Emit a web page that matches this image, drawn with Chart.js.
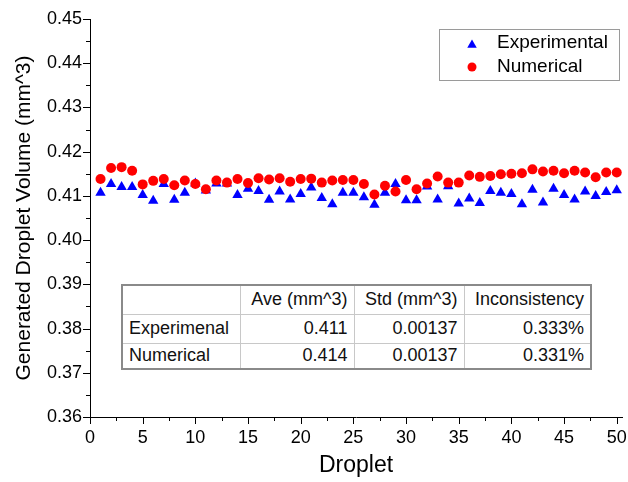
<!DOCTYPE html>
<html>
<head>
<meta charset="utf-8">
<script src="https://cdn.jsdelivr.net/npm/chart.js@4.4.1/dist/chart.umd.min.js"></script>
<style>
    html, body { margin: 0; padding: 0; background: #fff; }
    #wrap { position: relative; width: 628px; height: 482px; }
    #stats {
        position: absolute; left: 121px; top: 284px; width: 469px;
        border-collapse: collapse; table-layout: fixed; background: #fff;
        font-family: Arial, "Liberation Sans", sans-serif; font-size: 18px; color: #111;
        border: 2px solid #8a8a8a;
    }
    #stats td { border: 1px solid #c8c8c8; padding: 0 6px; text-align: right; white-space: nowrap; }
    #stats td:first-child { text-align: left; }
</style>
</head>
<body>
<div id="wrap">
    <canvas id="volumeChart" width="628" height="482"></canvas>
    <table id="stats"></table>
</div>
<script>
// ============================================
// Volumen de gota: experimental vs numérico
// ============================================

const droplets = [1, 2, 3, 4, 5, 6, 7, 8, 9, 10, 11, 12, 13, 14, 15, 16, 17, 18, 19, 20,
    21, 22, 23, 24, 25, 26, 27, 28, 29, 30, 31, 32, 33, 34, 35, 36, 37, 38, 39, 40,
    41, 42, 43, 44, 45, 46, 47, 48, 49, 50];

// mm^3
const experimental = [0.4107, 0.4127, 0.4120, 0.4120, 0.4102, 0.4089, 0.4127, 0.4091, 0.4107, 0.4128,
    0.4112, 0.4128, 0.4128, 0.4102, 0.4116, 0.4111, 0.4091, 0.4110, 0.4092, 0.4104,
    0.4119, 0.4095, 0.4081, 0.4107, 0.4107, 0.4097, 0.4080, 0.4107, 0.4127, 0.4090,
    0.4090, 0.4121, 0.4092, 0.4122, 0.4083, 0.4094, 0.4084, 0.4111, 0.4107, 0.4104,
    0.4081, 0.4114, 0.4085, 0.4116, 0.4102, 0.4092, 0.4110, 0.4100, 0.4109, 0.4113];

const numerical = [0.4138, 0.4163, 0.4165, 0.4157, 0.4126, 0.4134, 0.4138, 0.4124, 0.4135, 0.4127,
    0.4115, 0.4135, 0.4130, 0.4138, 0.4129, 0.4140, 0.4137, 0.4140, 0.4132, 0.4138,
    0.4139, 0.4130, 0.4135, 0.4136, 0.4136, 0.4127, 0.4103, 0.4123, 0.4110, 0.4136,
    0.4115, 0.4128, 0.4144, 0.4130, 0.4130, 0.4146, 0.4143, 0.4145, 0.4149, 0.4150,
    0.4151, 0.4160, 0.4155, 0.4157, 0.4151, 0.4157, 0.4153, 0.4142, 0.4153, 0.4153];

const xRange = [0, 50.5];
const yRange = [0.36, 0.45];

const seriesNames = ['Experimental', 'Numerical'];

const statsHeader = ['', 'Ave (mm^3)', 'Std (mm^3)', 'Inconsistency'];
const statsRows = [
    ['Experimenal', '0.411', '0.00137', '0.333%'],
    ['Numerical', '0.414', '0.00137', '0.331%']
];

const FONT = 'Arial, "Liberation Sans", sans-serif';
Chart.defaults.font.family = FONT;
Chart.defaults.color = '#000';

// -----------------------------
// Tabla de resumen
// -----------------------------
function buildStatsTable() {
    const table = document.getElementById('stats');
    const widths = [118, 114, 110, 127];
    const heights = [29, 29, 26];
    let html = '<colgroup>' + widths.map(w => `<col style="width:${w}px">`).join('') + '</colgroup>';
    [statsHeader, ...statsRows].forEach((row, r) => {
        html += `<tr style="height:${heights[r]}px">` + row.map(c => `<td>${c}</td>`).join('') + '</tr>';
    });
    table.innerHTML = html;
}

// Marcas de eje (mayores y menores) hacia afuera, y leyenda en recuadro
const axisDecor = {
    id: 'axisDecor',
    afterDraw(chart) {
        const { ctx, chartArea, scales: { x, y } } = chart;
        ctx.save();
        ctx.strokeStyle = '#000';
        ctx.lineWidth = 1;
        ctx.beginPath();
        for (let i = 0; i <= 20; i++) {
            const px = Math.round(x.getPixelForValue(i * 2.5)) + 0.5;
            const len = i % 2 === 0 ? 7 : 4;
            ctx.moveTo(px, chartArea.bottom);
            ctx.lineTo(px, chartArea.bottom + len);
        }
        for (let i = 0; i <= 18; i++) {
            const py = Math.round(y.getPixelForValue(yRange[0] + i * 0.005)) + 0.5;
            const len = i % 2 === 0 ? 7 : 4;
            ctx.moveTo(chartArea.left - len, py);
            ctx.lineTo(chartArea.left, py);
        }
        ctx.stroke();

        // leyenda
        ctx.strokeStyle = '#9a9a9a';
        ctx.strokeRect(439.5, 29.5, 180, 51);
        ctx.fillStyle = '#0000ff';
        Chart.helpers.drawPoint(ctx, { pointStyle: 'triangle', radius: 5.5, borderWidth: 0, rotation: 0 }, 472, 45);
        ctx.fillStyle = '#ff0000';
        Chart.helpers.drawPoint(ctx, { pointStyle: 'circle', radius: 4.5, borderWidth: 0, rotation: 0 }, 472, 67);
        ctx.fillStyle = '#000';
        ctx.font = `19px ${FONT}`;
        ctx.textBaseline = 'middle';
        ctx.textAlign = 'left';
        ctx.fillText(seriesNames[0], 497, 43);
        ctx.fillText(seriesNames[1], 497, 67);
        ctx.restore();
    }
};

function toPoints(values) {
    return droplets.map((d, i) => ({ x: d, y: values[i] }));
}

function createVolumeChart(canvasId) {
    const ctx = document.getElementById(canvasId).getContext('2d');
    return new Chart(ctx, {
        type: 'scatter',
        data: {
            datasets: [
                {
                    label: seriesNames[0],
                    data: toPoints(experimental),
                    pointStyle: 'triangle',
                    pointRadius: 6,
                    pointBorderWidth: 0,
                    backgroundColor: '#0000ff',
                    borderColor: '#0000ff',
                    order: 1
                },
                {
                    label: seriesNames[1],
                    data: toPoints(numerical),
                    pointStyle: 'circle',
                    pointRadius: 5,
                    pointBorderWidth: 0,
                    backgroundColor: '#ff0000',
                    borderColor: '#ff0000',
                    order: 0
                }
            ]
        },
        options: {
            responsive: false,
            animation: false,
            layout: { padding: { top: 19, right: 3, left: 0, bottom: 0 } },
            plugins: { legend: { display: false }, tooltip: { enabled: false } },
            scales: {
                x: {
                    type: 'linear',
                    min: xRange[0],
                    max: xRange[1],
                    ticks: { stepSize: 5, includeBounds: false, padding: 10, font: { size: 18 }, maxRotation: 0, autoSkip: false },
                    grid: { display: false, drawTicks: false },
                    border: { display: true, color: '#000', width: 1 },
                    title: { display: true, text: 'Droplet', font: { size: 23 }, padding: { top: 0, bottom: 3 } },
                    afterFit(s) { s.height = 65; s.paddingLeft = 0; s.paddingRight = 0; }
                },
                y: {
                    type: 'linear',
                    min: yRange[0],
                    max: yRange[1],
                    ticks: { stepSize: 0.01, padding: 8, font: { size: 18 }, callback: v => Number(v).toFixed(2) },
                    grid: { display: false, drawTicks: false },
                    border: { display: true, color: '#000', width: 1 },
                    title: { display: true, text: 'Generated Droplet Volume (mm^3)', font: { size: 21 }, padding: { top: 12, bottom: 0 } },
                    afterFit(s) { s.width = 90; s.paddingTop = 0; s.paddingBottom = 0; }
                }
            }
        },
        plugins: [axisDecor]
    });
}

buildStatsTable();
createVolumeChart('volumeChart');
</script>
</body>
</html>
